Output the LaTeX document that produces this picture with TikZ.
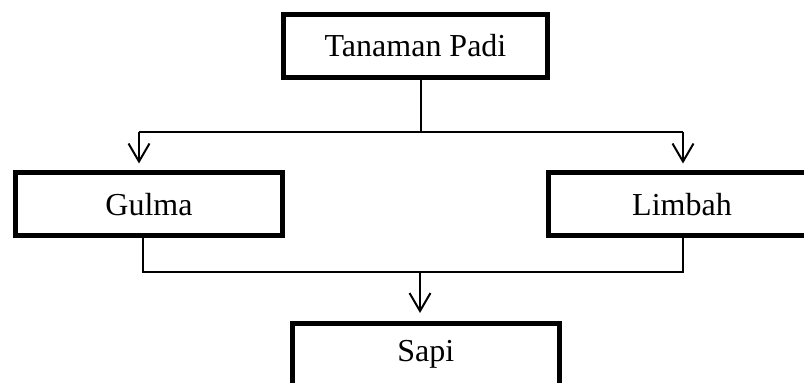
\documentclass[tikz,border=0pt]{standalone}
\usepackage{fontspec}
\setmainfont{Liberation Serif}
\usetikzlibrary{arrows.meta}
\begin{document}
\begin{tikzpicture}[x=1pt,y=1pt,
  box/.style={draw, line width=5pt, rectangle, inner sep=0pt,
    font=\fontsize{32}{38}\selectfont},
  link/.style={line width=1.5pt},
  flow/.style={link, -{Straight Barb[length=18pt,width=21pt,line width=2pt]}}]
  \useasboundingbox (0,0) rectangle (804,383);
  \clip (0,0) rectangle (804,383);

  % boxes
  \node[box, minimum width=264pt, minimum height=63pt]   (padi)   at (415.5,337)  {Tanaman Padi};
  \node[box, minimum width=267pt, minimum height=62.5pt] (gulma)  at (149,178.75) {Gulma};
  \node[box, minimum width=267pt, minimum height=62.5pt] (limbah) at (682,178.75) {Limbah};
  \node[box, minimum width=266.5pt, minimum height=62pt] (sapi)   at (425.75,28.5) {Sapi};

  % junction points of the connectors
  \coordinate (tj) at (421,251);
  \coordinate (tl) at (139,251);
  \coordinate (tr) at (683,251);
  \coordinate (bl) at (143,111);
  \coordinate (br) at (683,111);
  \coordinate (bm) at (420,111);

  % split from Tanaman Padi
  \draw[link] (padi.south -| tj) -- (tj);
  \draw[link] (tl) -- (tr);
  \draw[flow, shorten >=7pt] (tl) -- (tl |- gulma.north);
  \draw[flow, shorten >=7pt] (tr) -- (tr |- limbah.north);

  % merge into Sapi
  \draw[link] (gulma.south -| bl) -- (bl) -- (br) -- (limbah.south -| br);
  \draw[flow, shorten >=8pt] (bm) -- (bm |- sapi.north);
\end{tikzpicture}
\end{document}
